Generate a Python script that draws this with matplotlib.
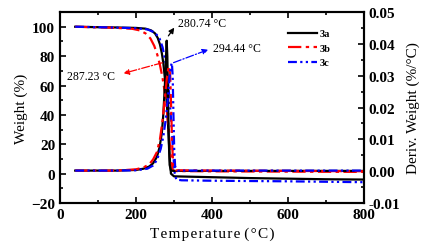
import matplotlib.pyplot as plt
from matplotlib.ticker import MultipleLocator

plt.rcParams["font.family"] = ["Liberation Serif", "DejaVu Serif"]

# Weight curves (left axis)
t_3a_w = [40, 100, 150, 200, 225, 240, 250, 257, 263, 268, 272, 276, 280, 283, 286, 289, 292, 300, 400, 500, 600, 700, 800]
w_3a = [100, 99.7, 99.5, 99.2, 98.7, 97.5, 95.5, 92.5, 88, 82, 75, 65, 52, 40, 25, 10, 0, -1.8, -2.4, -3, -3.4, -3.8, -4]

t_3b_w = [40, 100, 150, 190, 210, 225, 238, 248, 256, 263, 270, 276, 281, 285, 289, 293, 297, 302, 400, 500, 600, 700, 800]
w_3b = [100, 99.6, 99.2, 98.6, 97.5, 95.5, 92, 87, 81, 74, 65, 55, 44, 33, 20, 8, 2.5, 1.8, 1.6, 1.5, 1.4, 1.3, 1.2]

t_3c_w = [40, 100, 150, 200, 230, 250, 262, 270, 277, 283, 288, 292, 296, 299, 302, 306, 320, 400, 500, 600, 700, 800]
w_3c = [100, 99.7, 99.4, 99, 98.2, 96, 92, 86, 77, 65, 52, 38, 22, 10, 0, -4, -4.5, -4.8, -5.0, -5.2, -5.5, -5.8]

# Derivative curves (right axis)
t_3a_d = [40, 100, 150, 200, 220, 235, 245, 255, 262, 268, 272, 276, 279, 280.74, 282.5, 284.5, 286.5, 288.5, 292, 300, 400, 500, 600, 700, 800]
d_3a = [0.0002, 0.0002, 0.0002, 0.0004, 0.0008, 0.0015, 0.0025, 0.0045, 0.0075, 0.012, 0.018, 0.027, 0.036, 0.041, 0.036, 0.022, 0.009, 0.002, 0.0002, 0.0001, 0.0001, 0.0001, 0.0001, 0.0001, 0.0001]

t_3b_d = [40, 150, 200, 220, 235, 245, 255, 263, 270, 276, 281, 284.5, 287.23, 290, 292.5, 295, 298, 305, 400, 600, 800]
d_3b = [0.0002, 0.0002, 0.0006, 0.0012, 0.0022, 0.0037, 0.006, 0.01, 0.016, 0.023, 0.029, 0.032, 0.033, 0.03, 0.02, 0.009, 0.002, 0.0003, 0.0002, 0.0001, 0.0]

t_3c_d = [40, 150, 200, 230, 245, 255, 265, 272, 278, 284, 288, 291.5, 294.44, 296.5, 298.5, 300.5, 303, 310, 400, 600, 800]
d_3c = [0.0002, 0.0002, 0.0003, 0.0008, 0.0018, 0.0035, 0.007, 0.011, 0.016, 0.023, 0.029, 0.033, 0.034, 0.03, 0.018, 0.007, 0.0015, 0.0002, 0.0002, 0.0002, 0.0002]

labels = ["3a", "3b", "3c"]
colors = ["black", "red", "blue"]
styles = ["-", (0, (6, 2, 1.5, 2)), (0, (4, 1.5, 1, 1.5, 1, 1.5))]

fig = plt.figure(figsize=(4.38, 2.51), dpi=100)
ax = fig.add_axes([0.137, 0.187, 0.694, 0.761])
ax2 = ax.twinx()

weights = [(t_3a_w, w_3a), (t_3b_w, w_3b), (t_3c_w, w_3c)]
derivs = [(t_3a_d, d_3a), (t_3b_d, d_3b), (t_3c_d, d_3c)]
for (tw, w), (td, d), lab, c, ls in zip(weights, derivs, labels, colors, styles):
    ax.plot(tw, w, color=c, linestyle=ls, linewidth=1.6)
    ax2.plot(td, d, color=c, linestyle=ls, linewidth=1.6, label=lab)

ax.set_xlim(0, 800)
ax2.set_ylim(-0.01, 0.05)

ax.xaxis.set_major_locator(MultipleLocator(200))
ax.xaxis.set_minor_locator(MultipleLocator(100))
ax.yaxis.set_minor_locator(MultipleLocator(10))
ax2.yaxis.set_major_locator(MultipleLocator(0.01))
ax2.yaxis.set_minor_locator(MultipleLocator(0.005))
ax.set_yticks([-20, 0, 20, 40, 60, 80, 100])
ax.set_ylim(-20, 110)

ax.tick_params(which="both", direction="in", top=True, width=1.2)
ax.tick_params(which="major", length=4, labelsize=11)
ax.tick_params(which="minor", length=2)
ax2.tick_params(which="both", direction="in", width=1.2)
ax2.tick_params(which="major", length=4, labelsize=11)
ax2.tick_params(which="minor", length=2)
for lbl in ax.get_xticklabels() + ax.get_yticklabels():
    lbl.set_fontweight("bold")
ax2.set_yticklabels(["%.2f" % v for v in ax2.get_yticks()])
for lbl in ax2.get_yticklabels():
    lbl.set_fontweight("bold")

for sp in ax.spines.values():
    sp.set_linewidth(1.5)
for sp in ax2.spines.values():
    sp.set_linewidth(1.5)

# letter-spaced x label, as in the original
xlabel = "\u200a".join("Temperature") + " " + "\u200a".join("(°C)")
ax.set_xlabel(xlabel, fontsize=11, labelpad=4)
ax.set_ylabel("Weight (%)", fontsize=11, labelpad=2)
ax2.set_ylabel("Deriv. Weight (%/°C)", fontsize=11, labelpad=4)

# peak annotations
ax2.annotate("", xy=(305, 0.0458), xytext=(281, 0.0418),
             arrowprops=dict(arrowstyle="-|>", color="black", lw=0.9, mutation_scale=8))
ax2.text(310, 0.0465, "280.74 °C", fontsize=8.5, va="center", ha="left")

ax2.annotate("", xy=(160, 0.0305), xytext=(276, 0.0343),
             arrowprops=dict(arrowstyle="-|>", color="red", lw=0.9, linestyle="-.", mutation_scale=8))
ax2.text(18, 0.0300, "287.23 °C", fontsize=8.5, va="center", ha="left")

ax2.annotate("", xy=(397, 0.0385), xytext=(292, 0.0338),
             arrowprops=dict(arrowstyle="-|>", color="blue", lw=0.9, linestyle="-.", mutation_scale=8))
ax2.text(403, 0.0387, "294.44 °C", fontsize=8.5, va="center", ha="left")

leg = ax2.legend(loc="upper left", bbox_to_anchor=(0.72, 0.96), frameon=False,
                 handlelength=2.8, handletextpad=0.2, labelspacing=0.5,
                 prop={"size": 7.5, "weight": "bold"})

fig.savefig("out.png", dpi=100)
